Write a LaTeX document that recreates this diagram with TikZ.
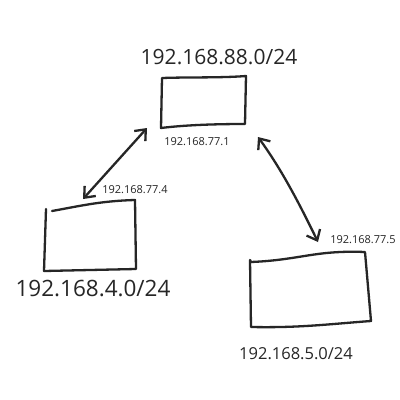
\documentclass[tikz,border=0pt]{standalone}
\usepackage{fontspec}
\setmainfont{Open Sans}
\usetikzlibrary{arrows.meta}
\begin{document}
\begin{tikzpicture}[x=1pt,y=-1pt,
  pen/.style={line width=2.3pt,line join=round,line cap=round,black!85},
  link/.style={pen,{Straight Barb[length=9pt,width=15pt]}-{Straight Barb[length=9pt,width=15pt]}},
  big/.style={font=\fontsize{21}{24}\selectfont,text=black!85,inner sep=0pt},
  bigl/.style={font=\fontsize{22.5}{26}\selectfont,text=black!85,inner sep=0pt},
  mid/.style={font=\fontsize{16.5}{19}\selectfont,text=black!85,inner sep=0pt},
  small/.style={font=\fontsize{11}{13}\selectfont,text=black!85,inner sep=0pt}]
\useasboundingbox[fill=white] (0,0) rectangle (400,400);
% top box
\coordinate (t1) at (162,78);
\coordinate (t2) at (246,76);
\coordinate (t3) at (245,124);
\coordinate (t4) at (161,128);
\draw[pen] (t1) .. controls (190,77) and (220,78) .. (t2) -- (t3) .. controls (215,124) and (185,125) .. (t4) -- cycle;
% left box
\coordinate (l1) at (52,211);
\coordinate (l2) at (135,200);
\coordinate (l3) at (136,269);
\coordinate (l4) at (44,271);
\coordinate (l0) at (46,209);
\draw[pen] (l1) .. controls (80,206) and (100,201) .. (l2) -- (l3) -- (l4);
\draw[pen] (l0) -- (l4);
% right box
\coordinate (r1) at (251,262);
\coordinate (r2) at (365,252);
\coordinate (r3) at (371,321);
\coordinate (r4) at (251,327);
\draw[pen] (r1) .. controls (300,260) and (315,250) .. (r2) -- (r3) .. controls (330,324) and (300,328) .. (r4) -- (250,260) -- (r1);
% arrows
\coordinate (a1s) at (83,199);
\coordinate (a1e) at (147,128);
\coordinate (a2s) at (258,137);
\coordinate (a2e) at (318,242);
\draw[link] (a1s) -- (a1e);
\draw[link] (a2s) .. controls (282,170) and (300,205) .. (a2e);
% labels
\node[big] (n88) at (219,57) {192.168.88.0/24};
\node[bigl] (n4) at (93,288) {192.168.4.0/24};
\node[mid] (n5) at (296,354) {192.168.5.0/24};
\node[small] (i1) at (197,142) {192.168.77.1};
\node[small] (i4) at (135,190) {192.168.77.4};
\node[small] (i5) at (363,240) {192.168.77.5};
\end{tikzpicture}
\end{document}
